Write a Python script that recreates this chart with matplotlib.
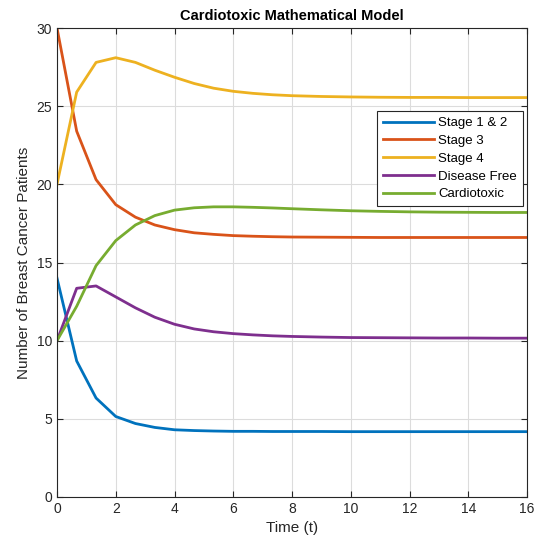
import matplotlib
matplotlib.use("Agg")
from matplotlib import pyplot as plt
import numpy as np

# time samples (solver output, roughly every 2/3 unit)
t = [0, 0.67, 1.33, 2, 2.67, 3.33, 4, 4.67, 5.33, 6, 6.67, 7.33, 8, 9, 10, 11, 12, 13, 14, 15, 16]

stage12 = [14, 8.7, 6.33, 5.15, 4.7, 4.45, 4.3, 4.25, 4.22, 4.2, 4.2, 4.19, 4.19, 4.19, 4.18, 4.18, 4.18, 4.18, 4.18, 4.18, 4.18]
stage3 = [30, 23.4, 20.3, 18.7, 17.9, 17.4, 17.1, 16.9, 16.8, 16.72, 16.68, 16.65, 16.63, 16.62, 16.61, 16.6, 16.6, 16.6, 16.6, 16.6, 16.6]
stage4 = [20, 25.9, 27.8, 28.1, 27.8, 27.3, 26.85, 26.45, 26.15, 25.95, 25.82, 25.73, 25.67, 25.62, 25.59, 25.57, 25.56, 25.56, 25.55, 25.55, 25.55]
disease_free = [10, 13.35, 13.5, 12.8, 12.1, 11.5, 11.05, 10.75, 10.57, 10.45, 10.37, 10.31, 10.27, 10.23, 10.2, 10.19, 10.18, 10.17, 10.17, 10.16, 10.16]
cardiotoxic = [10, 12.2, 14.8, 16.4, 17.4, 18.0, 18.35, 18.5, 18.56, 18.56, 18.53, 18.49, 18.44, 18.37, 18.31, 18.27, 18.24, 18.22, 18.21, 18.2, 18.2]

labels = ['Stage 1 & 2', 'Stage 3', 'Stage 4', 'Disease Free', 'Cardiotoxic']
colors = ['#0072BD', '#D95319', '#EDB120', '#7E2F8E', '#77AC30']

plt.rcParams['font.family'] = ['Liberation Sans', 'DejaVu Sans']

fig = plt.figure(figsize=(5.38, 5.46), dpi=100)
ax = fig.add_axes([57/538, 1-497/546, 470/538, 469/546])

for s, lab, c in zip([stage12, stage3, stage4, disease_free, cardiotoxic], labels, colors):
    ax.plot(t, s, color=c, linewidth=2, label=lab)

ax.set_xlim(0, 16)
ax.set_ylim(0, 30)
ax.set_xticks(np.arange(0, 17, 2))
ax.set_yticks(np.arange(0, 31, 5))
ax.grid(True, color='#dcdcdc', linewidth=0.8)
ax.set_axisbelow(True)
ax.tick_params(direction='in', top=True, right=True, labelsize=10, colors='#262626', length=4)
for sp in ax.spines.values():
    sp.set_color('#262626')
    sp.set_linewidth(0.8)

ax.set_title('Cardiotoxic Mathematical Model', fontsize=10.5, fontweight='bold', pad=6)
ax.set_xlabel('Time (t)', fontsize=11, color='#262626')
ax.set_ylabel('Number of Breast Cancer Patients', fontsize=11, color='#262626')

leg = ax.legend(loc='upper right', bbox_to_anchor=(0.991, 0.823), borderaxespad=0,
                fontsize=9.5, fancybox=False, edgecolor='#262626', framealpha=1,
                handlelength=3.9, borderpad=0.45, labelspacing=0.42, handletextpad=0.3)
leg.get_frame().set_linewidth(0.8)

fig.savefig('out.png', dpi=100)
